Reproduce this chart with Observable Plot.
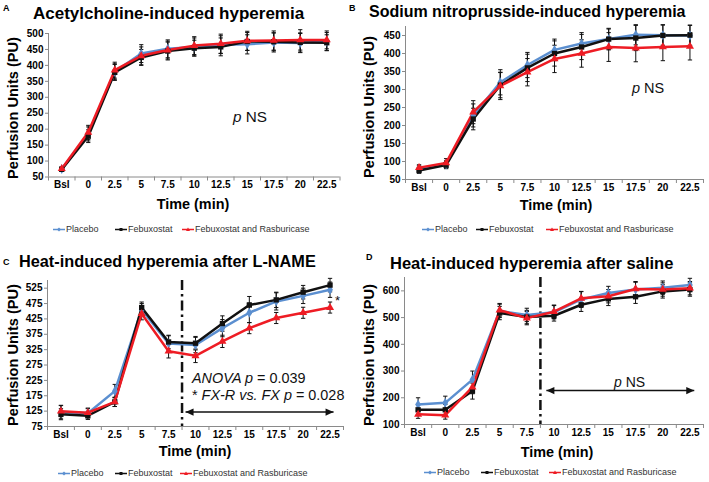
<!DOCTYPE html>
<html><head><meta charset="utf-8">
<script src="https://cdn.jsdelivr.net/npm/d3@7"></script>
<script src="https://cdn.jsdelivr.net/npm/@observablehq/plot@0.6"></script>
<style>
body{margin:0;background:#fff;font-family:"Liberation Sans",Arial,sans-serif;}
#root{position:relative;width:709px;height:482px;overflow:hidden;background:#fff;}
.abs{position:absolute;white-space:nowrap;line-height:1;}
.leg{position:absolute;white-space:nowrap;font-size:9px;color:#333;line-height:1;display:flex;align-items:center;transform:translateY(-50%);}
.leg svg{margin-right:1px;}
</style></head><body><div id="root"></div>
<script>
// ---------- data ----------
const timeLabels = ["Bsl","0","2.5","5","7.5","10","12.5","15","17.5","20","22.5"];
const seriesNames = ["Placebo","Febuxostat","Febuxostat and Rasburicase"];
const seriesColors = ["#5b8fd0","#111111","#ee1c24"];
const seriesSymbols = ["diamond","square","triangle"];

// A: Acetylcholine
const aPlacebo   = [75,185,380,437,452,458,465,466,472,470,475];
const aFebux     = [74,178,378,425,445,454,458,475,474,472,471];
const aFebuxRas  = [76,190,385,430,448,462,468,477,478,480,480];
const aErrPlacebo  = [6,22,25,28,28,28,28,30,30,30,28];
const aErrFebux    = [6,20,25,25,28,25,28,28,28,30,25];
const aErrFebuxRas = [6,22,25,28,28,28,30,30,30,32,28];

// B: Sodium nitroprusside
const bPlacebo   = [80,92,228,320,368,410,428,440,452,451,450];
const bFebux     = [75,90,218,312,360,400,418,440,443,450,451];
const bFebuxRas  = [83,96,237,310,348,385,400,418,415,418,420];
const bErrPlacebo  = [8,10,32,35,35,30,30,28,28,28,28];
const bErrFebux    = [8,10,30,35,38,35,35,30,35,30,28];
const bErrFebuxRas = [8,12,32,38,38,38,38,40,38,38,38];

// C: Heat after L-NAME
const cPlacebo   = [122,118,190,455,345,340,395,445,482,500,520];
const cFebux     = [115,110,155,462,350,346,410,470,487,512,535];
const cFebuxRas  = [125,120,155,442,320,305,352,395,428,445,462];
const cErrPlacebo  = [22,15,22,20,25,25,28,32,28,25,25];
const cErrFebux    = [18,12,15,18,22,22,25,28,25,22,22];
const cErrFebuxRas = [18,15,15,20,22,22,20,18,18,18,18];

// D: Heat after saline
const dPlacebo   = [175,181,268,525,510,520,568,592,605,612,622];
const dFebux     = [155,155,225,517,502,507,548,570,578,598,605];
const dFebuxRas  = [138,135,240,528,498,522,572,580,607,605,610];
const dErrPlacebo  = [25,25,32,25,25,25,30,25,30,25,25];
const dErrFebux    = [20,20,30,25,25,20,25,25,25,25,25];
const dErrFebuxRas = [15,15,25,25,25,25,25,25,25,25,25];

const panelTitles = ["Acetylcholine-induced hyperemia","Sodium nitroprusside-induced hyperemia","Heat-induced hyperemia after L-NAME","Heat-induced hyperemia after saline"];
const panelLetters = ["A","B","C","D"];
const yTicksA = d3.range(50, 501, 50);
const yTicksB = d3.range(50, 451, 50);
const yTicksC = d3.range(75, 526, 50);
const yTicksD = d3.range(100, 601, 100);

// phase divider (between 7.5 and 10 min) and arrow span for C and D
const phaseDivider = [4.5];
const arrowC = [{x1: 4.63, x2: 10.13, y: 122}];
const arrowD = [{x1: 4.72, x2: 10.16, y: 227}];

// ---------- drawing ----------
const root = document.getElementById("root");
const indices = d3.range(timeLabels.length);
const boundaries = d3.range(-0.5, timeLabels.length, 1);

const triLeft = {draw(ctx){ctx.moveTo(0,0);ctx.lineTo(8,-3.6);ctx.lineTo(8,3.6);ctx.closePath();}};
const triRight = {draw(ctx){ctx.moveTo(0,0);ctx.lineTo(-8,-3.6);ctx.lineTo(-8,3.6);ctx.closePath();}};

function makePanel(p) {
  const rows = [];
  p.values.forEach((vals, s) => vals.forEach((v, i) => rows.push({i, v, e: p.errors[s][i], name: seriesNames[s]})));
  const capW = 0.08;
  const marks = [
    Plot.ruleY([p.yDomain[0]], {stroke: "#8a8a8a"}),
    Plot.ruleX([-0.5], {stroke: "#8a8a8a"}),
    Plot.axisY({ticks: p.yTicks, tickSize: 3, tickPadding: 2, stroke: "#8a8a8a", fill: "#000", label: null}),
    Plot.axisX({ticks: boundaries, tickSize: 4, tickFormat: () => "", stroke: "#8a8a8a", label: null}),
    Plot.axisX({ticks: indices, tickSize: 0, tickPadding: 4, tickFormat: i => timeLabels[i], fill: "#000", label: null}),
  ];
  if (p.dividers) marks.push(Plot.ruleX(p.dividers, {stroke: "#111", strokeWidth: 2.5, strokeDasharray: "10,4,2.5,4"}));
  if (p.arrows) {
    marks.push(Plot.link(p.arrows, {x1: "x1", x2: "x2", y1: "y", y2: "y", stroke: "#111", strokeWidth: 1.6}));
    marks.push(Plot.dot(p.arrows, {x: "x1", y: "y", symbol: triLeft, fill: "#111", stroke: null}));
    marks.push(Plot.dot(p.arrows, {x: "x2", y: "y", symbol: triRight, fill: "#111", stroke: null}));
  }
  marks.push(
    Plot.link(rows, {x1: "i", x2: "i", y1: d => d.v - d.e, y2: d => d.v + d.e, stroke: "#111", strokeWidth: 1}),
    Plot.link(rows, {x1: d => d.i - capW, x2: d => d.i + capW, y1: d => d.v + d.e, y2: d => d.v + d.e, stroke: "#111", strokeWidth: 1}),
    Plot.link(rows, {x1: d => d.i - capW, x2: d => d.i + capW, y1: d => d.v - d.e, y2: d => d.v - d.e, stroke: "#111", strokeWidth: 1}),
    Plot.line(rows, {x: "i", y: "v", z: "name", stroke: "name", strokeWidth: 2.5}),
    Plot.dot(rows, {x: "i", y: "v", symbol: "name", fill: "name", r: 3})
  );
  const svg = Plot.plot({
    width: p.width, height: p.height,
    marginLeft: p.m[0], marginRight: p.m[1], marginTop: p.m[2], marginBottom: p.m[3],
    x: {domain: [-0.5, timeLabels.length - 0.5]},
    y: {domain: p.yDomain},
    color: {domain: seriesNames, range: seriesColors},
    symbol: {domain: seriesNames, range: seriesSymbols},
    style: {fontFamily: '"Liberation Sans",Arial,sans-serif', fontSize: "10px", fontWeight: "bold", background: "transparent", overflow: "visible"},
    marks
  });
  const wrap = document.createElement("div");
  wrap.style.position = "absolute";
  wrap.style.left = p.left + "px";
  wrap.style.top = p.top + "px";
  wrap.appendChild(svg);
  root.appendChild(wrap);
}

makePanel({left: 0, top: 0, width: 354, height: 240, m: [48, 14.5, 33, 63.5], yDomain: [50, 500], yTicks: yTicksA,
  values: [aPlacebo, aFebux, aFebuxRas], errors: [aErrPlacebo, aErrFebux, aErrFebuxRas]});
makePanel({left: 354, top: 0, width: 355, height: 240, m: [51, 6, 26, 61], yDomain: [50, 475], yTicks: yTicksB,
  values: [bPlacebo, bFebux, bFebuxRas], errors: [bErrPlacebo, bErrFebux, bErrFebuxRas]});
makePanel({left: 0, top: 240, width: 354, height: 242, m: [47, 11, 40, 56], yDomain: [75, 550], yTicks: yTicksC,
  values: [cPlacebo, cFebux, cFebuxRas], errors: [cErrPlacebo, cErrFebux, cErrFebuxRas], dividers: phaseDivider, arrows: arrowC});
makePanel({left: 354, top: 240, width: 355, height: 242, m: [50, 6, 37, 58], yDomain: [100, 650], yTicks: yTicksD,
  values: [dPlacebo, dFebux, dFebuxRas], errors: [dErrPlacebo, dErrFebux, dErrFebuxRas], dividers: phaseDivider, arrows: arrowD});

// ---------- text ----------
function txt(html, x, y, style, tf) {
  const d = document.createElement("div");
  d.className = "abs";
  d.innerHTML = html;
  d.style.left = x + "px";
  d.style.top = y + "px";
  d.style.transform = tf || "translateY(-50%)";
  Object.assign(d.style, style || {});
  root.appendChild(d);
}
const bold = s => ({fontWeight: "bold", fontSize: s + "px", color: "#000"});

// titles
txt(panelTitles[0], 33, 13, bold(17));
txt(panelTitles[1], 369, 12, bold(16));
txt(panelTitles[2], 19, 261, bold(16.3));
txt(panelTitles[3], 390, 263, bold(16.5));
// panel letters
txt(panelLetters[0], 3, 8, bold(9));
txt(panelLetters[1], 349, 8, bold(9));
txt(panelLetters[2], 3, 262, bold(9));
txt(panelLetters[3], 366, 257, bold(9));
// axis titles
const yTitle = "Perfusion Units (PU)", xTitle = "Time (min)";
[[13,108],[369,107],[13,355],[369,355]].forEach(([x,y]) => txt(yTitle, x, y, bold(14.6), "translate(-50%,-50%) rotate(-90deg)"));
[[193,204],[556,205],[195,451],[557,452]].forEach(([x,y]) => txt(xTitle, x, y, bold(14.4), "translate(-50%,-50%)"));
// annotations
const reg = s => ({fontSize: s + "px", color: "#111"});
txt("<i>p</i> NS", 233, 117, reg(15.3));
txt("<i>p</i> NS", 632, 88, reg(14.5));
txt("<i>p</i> NS", 614, 382, reg(14));
txt("<i>ANOVA p</i> = 0.039", 192, 378, reg(14.4));
txt("* <i>FX-R vs. FX p</i> = 0.028", 192, 395, reg(14.4));
txt("*", 335, 300, reg(13));

// legends
function legendIcon(i) {
  const sym = i === 0 ? '<path d="M6,1 L8,3 L6,5 L4,3Z"' : i === 1 ? '<rect x="4.5" y="1.5" width="3" height="3"' : '<path d="M6,1 L8,4.6 L4,4.6Z"';
  return `<svg width="12" height="6"><line x1="0" x2="12" y1="3" y2="3" stroke="${seriesColors[i]}" stroke-width="1.3"/>${sym} fill="${seriesColors[i]}"/></svg>`;
}
function legend(xs, y) {
  xs.forEach((x, i) => {
    const d = document.createElement("div");
    d.className = "leg";
    d.style.left = x + "px";
    d.style.top = y + "px";
    d.innerHTML = legendIcon(i) + "<span>" + seriesNames[i] + "</span>";
    root.appendChild(d);
  });
}
legend([53, 115, 182], 229);
legend([422, 476, 546], 229);
legend([58, 115, 180], 473);
legend([424, 481, 549], 472);
</script></body></html>
